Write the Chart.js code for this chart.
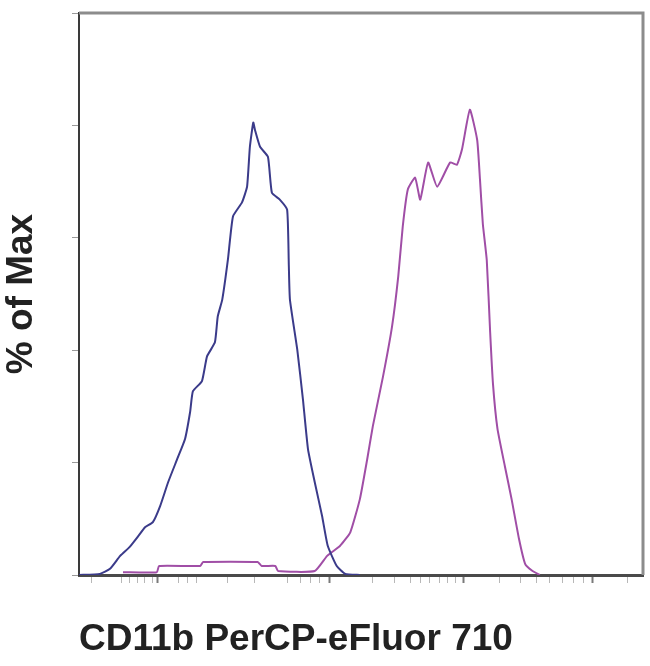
<!DOCTYPE html>
<html>
<head>
<meta charset="utf-8">
<script src="https://cdn.jsdelivr.net/npm/chart.js@4/dist/chart.umd.min.js"></script>
<style>
	html, body { margin: 0; padding: 0; background: #fff; }
	#wrap { width: 650px; height: 666px; }
</style>
</head>
<body>
<div id="wrap"><canvas id="hist"></canvas></div>
<script>
// Histogram channels (logicle display scale, 0-1000) and % of max

// isotype / unstained (navy)
const blueX = [0, 37, 55, 73, 90, 105, 117, 131, 144, 158, 174, 188, 197, 202, 218, 227, 241, 246, 254, 264, 273, 289, 298, 303, 309, 312, 321, 335, 342, 356, 369, 372, 374, 387, 397, 406, 418, 431, 441, 457, 472, 498];
const blueY = [0, 0.2, 1.1, 3.4, 5.0, 6.9, 8.5, 9.4, 12.3, 16.5, 20.6, 24.2, 29.0, 32.7, 34.5, 38.9, 41.4, 46.0, 49.0, 56.1, 63.8, 66.3, 69.1, 76.2, 80.5, 79.2, 76.2, 74.4, 68.0, 66.8, 65.0, 55.2, 49.0, 40.1, 31.3, 22.4, 16.5, 10.5, 5.2, 1.6, 0.2, 0];

// CD11b stained (magenta)
const magX = [78, 138, 142, 215, 220, 317, 324, 348, 353, 418, 440, 463, 481, 498, 511, 521, 539, 555, 566, 574, 583, 596, 605, 619, 635, 658, 670, 679, 693, 706, 711, 716, 723, 729, 734, 742, 755, 767, 780, 791, 803, 817];
const magY = [0.5, 0.5, 1.6, 1.6, 2.3, 2.3, 1.6, 1.6, 0.7, 0.7, 3.4, 5.2, 7.6, 13.5, 20.6, 26.5, 35.3, 44.2, 53.1, 62.0, 68.6, 70.7, 66.8, 73.4, 69.1, 73.4, 73.0, 75.7, 82.8, 77.4, 70.3, 62.5, 56.0, 43.2, 34.0, 26.0, 19.4, 13.5, 6.5, 2.0, 0.8, 0];

// axis tick marks (no labels in the original)
const xTicks = [23, 76, 90, 103, 117, 130, 140, 176, 193, 209, 264, 312, 369, 392, 410, 427, 445, 520, 560, 587, 605, 622, 640, 654, 668, 681, 746, 782, 812, 835, 858, 876, 894, 911, 973];
const xMajor = [140, 445, 681, 911];
const yTicks = [0, 20, 40, 60, 80, 100];

const toPoints = (xs, ys) => xs.map((x, i) => ({ x, y: ys[i] }));

// top/right frame lines
const framePlugin = {
	id: 'frame',
	afterDraw(chart) {
		const { ctx, chartArea: a } = chart;
		ctx.save();
		ctx.strokeStyle = '#8c8c8c';
		ctx.lineWidth = 3;
		ctx.beginPath();
		ctx.moveTo(a.left, a.top);
		ctx.lineTo(a.right, a.top);
		ctx.lineTo(a.right, a.bottom);
		ctx.stroke();
		ctx.restore();
	}
};

const titleFont = { family: 'Liberation Sans, Arial, sans-serif', size: 37, weight: 'bold' };

new Chart(document.getElementById('hist'), {
	type: 'line',
	data: {
		datasets: [
			{ data: toPoints(blueX, blueY), borderColor: '#3b3b8a', borderWidth: 2, pointRadius: 0, tension: 0.15 },
			{ data: toPoints(magX, magY), borderColor: '#a04ea6', borderWidth: 2, pointRadius: 0, tension: 0.15 }
		]
	},
	options: {
		responsive: true,
		maintainAspectRatio: false,
		animation: false,
		events: [],
		layout: { padding: { top: 13, right: 7, left: 0, bottom: 0 } },
		plugins: { legend: { display: false }, tooltip: { enabled: false } },
		scales: {
			x: {
				type: 'linear',
				min: 0,
				max: 1000,
				afterBuildTicks: (axis) => { axis.ticks = xTicks.map(v => ({ value: v })); },
				ticks: { display: false },
				grid: {
					display: true,
					drawOnChartArea: false,
					drawTicks: true,
					tickLength: 8,
					tickWidth: (c) => xMajor.includes(c.tick.value) ? 2 : 1,
					tickColor: (c) => xMajor.includes(c.tick.value) ? '#7a7a7a' : '#b8b8b8'
				},
				border: { display: true, color: '#4a4a4a', width: 3 },
				title: {
					display: true,
					text: 'CD11b PerCP-eFluor 710',
					align: 'start',
					color: '#222',
					font: titleFont,
					padding: { top: 34.8, bottom: 3.8 }
				}
			},
			y: {
				type: 'linear',
				min: 0,
				max: 100,
				afterBuildTicks: (axis) => { axis.ticks = yTicks.map(v => ({ value: v })); },
				ticks: { display: false },
				grid: {
					display: true,
					drawOnChartArea: false,
					drawTicks: true,
					tickLength: 7,
					tickColor: '#9a9a9a'
				},
				border: { display: true, color: '#3a3a3a', width: 2 },
				title: {
					display: true,
					text: '% of Max',
					color: '#222',
					font: titleFont,
					padding: { top: 0, bottom: 27.6 }
				}
			}
		}
	},
	plugins: [framePlugin]
});
</script>
</body>
</html>
